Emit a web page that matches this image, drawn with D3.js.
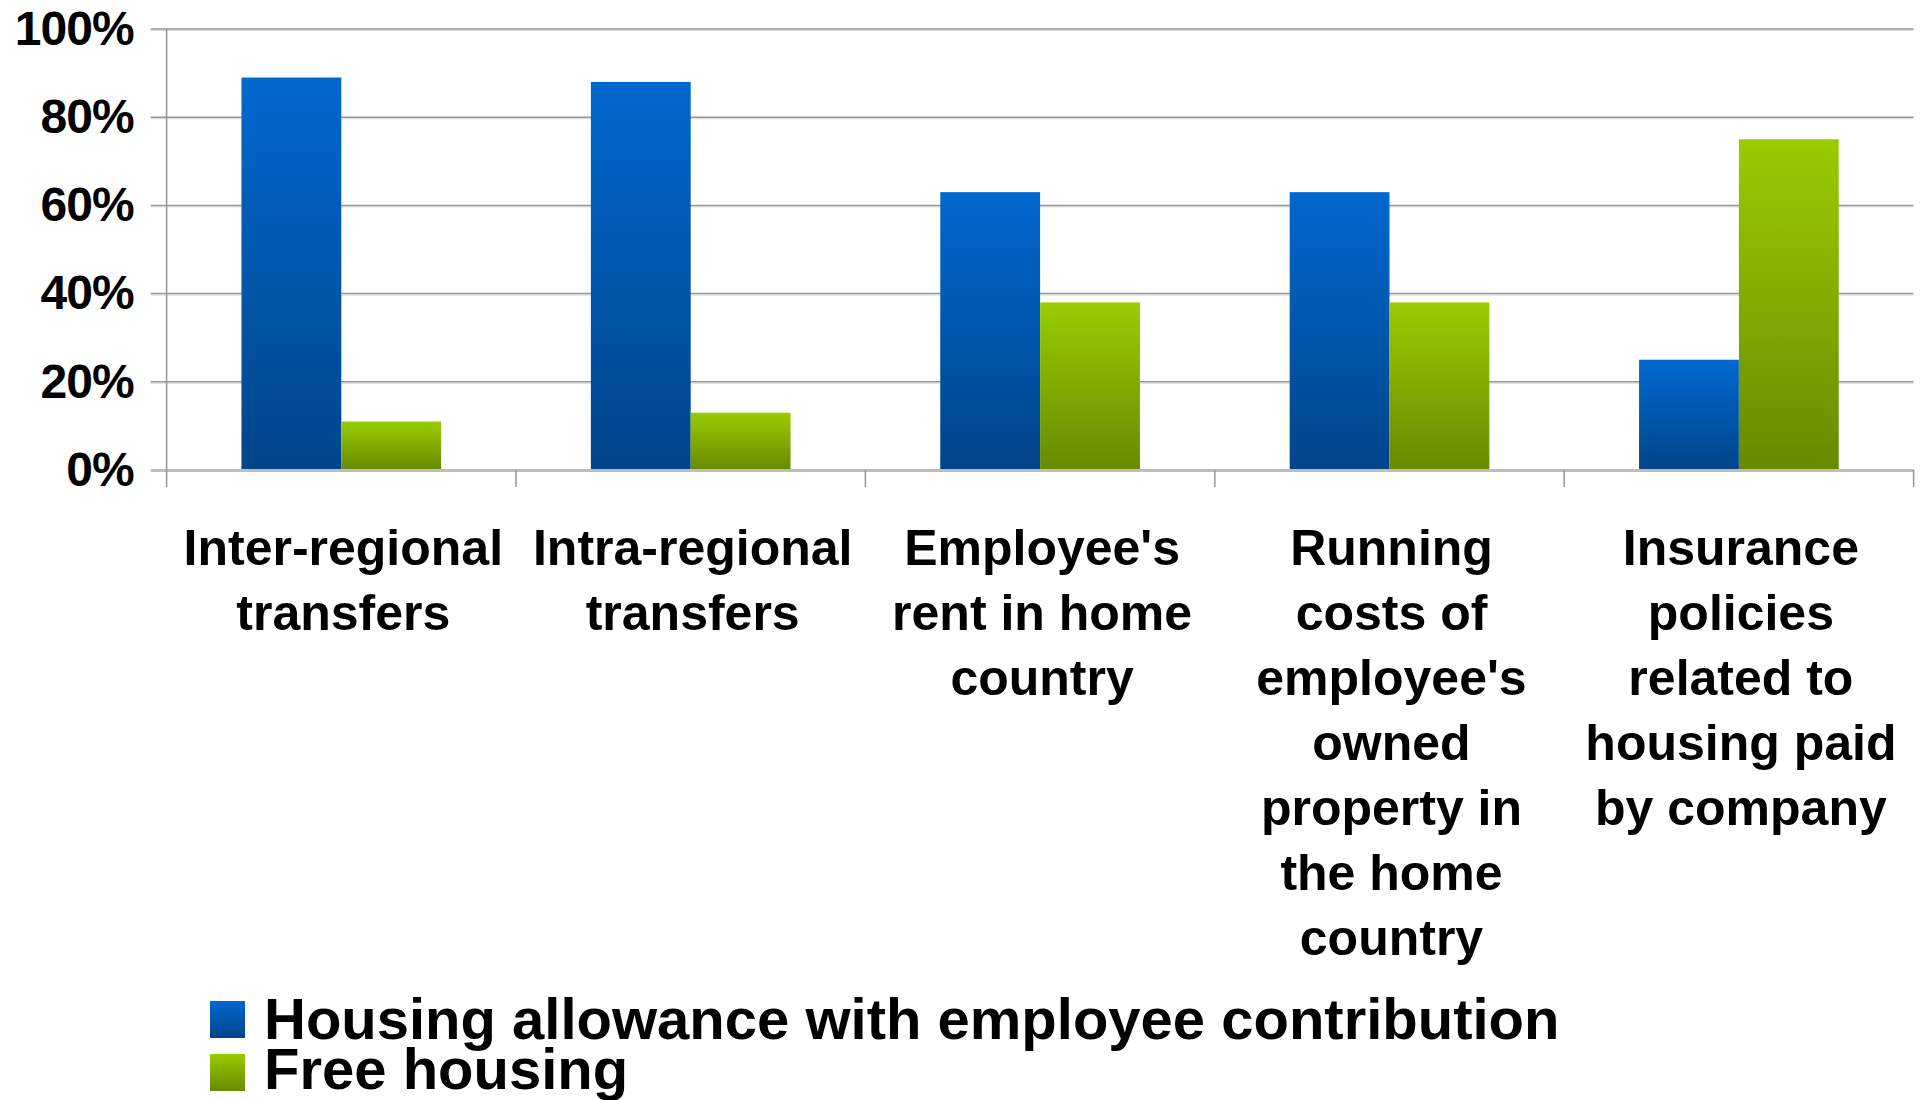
<!DOCTYPE html>
<html lang="en">
<head>
    <meta charset="UTF-8">
    <title>Housing benefits</title>
    <style>
        body {
            margin: 0;
            background-color: #fff;
        }

        svg text {
            font-family: "Liberation Sans", Arial, sans-serif;
            font-weight: bold;
            fill: #000;
        }

        .grid line {
            stroke: #969696;
            stroke-width: 1.5px;
        }

        .grid line.shade {
            stroke: #d9d9d9;
            stroke-width: 1px;
        }
    </style>
</head>
<body>
    <svg id="chart" width="1921" height="1100"></svg>

    <script src="https://d3js.org/d3.v7.min.js"></script>
    <script>
        // data
        const categories = [
            ["Inter-regional", "transfers"],
            ["Intra-regional", "transfers"],
            ["Employee's", "rent in home", "country"],
            ["Running", "costs of", "employee's", "owned", "property in", "the home", "country"],
            ["Insurance", "policies", "related to", "housing paid", "by company"]
        ];
        const seriesNames = ["Housing allowance with employee contribution", "Free housing"];
        const allowance = [0.89, 0.88, 0.63, 0.63, 0.25];
        const freeHousing = [0.11, 0.13, 0.38, 0.38, 0.75];
        const yTicks = [0, 0.2, 0.4, 0.6, 0.8, 1];

        const plotLeft = 166.6, plotRight = 1913.6, plotTop = 29, plotBottom = 470;

        const svg = d3.select("#chart");

        // gradients for the two series
        const defs = svg.append("defs");
        const gradients = [
            { id: "grad-blue", top: "#0068cf", bottom: "#00458a" },
            { id: "grad-green", top: "#99cc00", bottom: "#678a00" }
        ];
        gradients.forEach(g => {
            const lg = defs.append("linearGradient")
                .attr("id", g.id)
                .attr("x1", 0).attr("y1", 0)
                .attr("x2", 0).attr("y2", 1);
            lg.append("stop").attr("offset", "0%").attr("stop-color", g.top);
            lg.append("stop").attr("offset", "100%").attr("stop-color", g.bottom);
        });

        const idx = d3.range(categories.length);

        const x0 = d3.scaleBand()
            .domain(idx)
            .range([plotLeft, plotRight])
            .padding(0);

        const step = x0.step();
        const gap = step * 0.75 / 3.5; // excel style gap width 150%

        const x1 = d3.scaleBand()
            .domain([0, 1])
            .range([gap, step - gap]);

        const y = d3.scaleLinear()
            .domain([0, 1])
            .range([plotBottom, plotTop]);

        // gridlines
        const grid = svg.append("g").attr("class", "grid");
        grid.selectAll("line.shade")
            .data(yTicks.filter(d => d > 0))
            .enter()
            .append("line")
            .attr("class", "shade")
            .attr("x1", plotLeft - 16).attr("x2", plotRight)
            .attr("y1", d => y(d) + 1.5).attr("y2", d => y(d) + 1.5);
        grid.selectAll("line.main")
            .data(yTicks.filter(d => d > 0))
            .enter()
            .append("line")
            .attr("class", "main")
            .attr("x1", plotLeft - 16).attr("x2", plotRight)
            .attr("y1", d => y(d)).attr("y2", d => y(d));

        // bars
        const series = [allowance, freeHousing];
        const groups = svg.selectAll(".group")
            .data(idx)
            .enter()
            .append("g")
            .attr("class", "group")
            .attr("transform", i => `translate(${x0(i)},0)`);

        groups.selectAll("rect")
            .data(i => series.map((s, k) => ({ k: k, v: s[i] })))
            .enter()
            .append("rect")
            .attr("x", d => x1(d.k))
            .attr("width", x1.bandwidth())
            .attr("y", d => y(d.v))
            .attr("height", d => y(0) - y(d.v))
            .attr("fill", d => `url(#${gradients[d.k].id})`);

        // axis lines
        svg.append("line")
            .attr("x1", plotLeft - 16).attr("x2", plotRight)
            .attr("y1", y(0) + 0.5).attr("y2", y(0) + 0.5)
            .attr("stroke", "#bdbdbd")
            .attr("stroke-width", 3);
        svg.append("line")
            .attr("x1", plotLeft).attr("x2", plotLeft)
            .attr("y1", plotTop).attr("y2", plotBottom + 17)
            .attr("stroke", "#969696")
            .attr("stroke-width", 1.5);
        svg.selectAll(".xtick")
            .data(idx.map(i => x0(i) + step))
            .enter()
            .append("line")
            .attr("class", "xtick")
            .attr("x1", d => d).attr("x2", d => d)
            .attr("y1", plotBottom).attr("y2", plotBottom + 17)
            .attr("stroke", "#969696")
            .attr("stroke-width", 1.5);

        // y axis labels
        const yAxis = d3.axisLeft(y)
            .tickValues(yTicks)
            .tickFormat(d3.format(".0%"))
            .tickSize(0)
            .tickPadding(33);
        const yg = svg.append("g")
            .attr("transform", `translate(${plotLeft},0)`)
            .call(yAxis);
        yg.select(".domain").remove();
        yg.attr("font-family", null).attr("font-size", null);
        yg.selectAll("text")
            .attr("font-size", 48)
            .style("letter-spacing", "-1px");

        // category labels
        const labels = svg.selectAll(".cat")
            .data(idx)
            .enter()
            .append("text")
            .attr("class", "cat")
            .attr("text-anchor", "middle")
            .attr("font-size", 50)
            .attr("y", 565);
        labels.selectAll("tspan")
            .data(i => categories[i].map(t => ({ i: i, t: t })))
            .enter()
            .append("tspan")
            .attr("x", d => x0(d.i) + step / 2 + 2)
            .attr("dy", (d, j) => j === 0 ? 0 : 65)
            .text(d => d.t);

        // legend
        const legend = svg.selectAll(".legend")
            .data(seriesNames)
            .enter()
            .append("g")
            .attr("class", "legend")
            .attr("transform", (d, i) => `translate(210,${1001 + i * 53})`);
        legend.append("rect")
            .attr("width", 35)
            .attr("height", 37)
            .attr("fill", (d, i) => `url(#${gradients[i].id})`);
        legend.append("text")
            .attr("x", 54)
            .attr("y", (d, i) => 38 - i * 3)
            .attr("font-size", 58)
            .text(d => d);
    </script>
</body>
</html>
